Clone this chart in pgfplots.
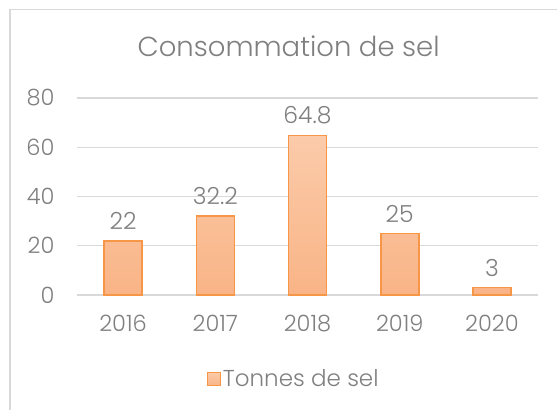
\documentclass[border=0pt]{standalone}
\usepackage{fontspec}
\setmainfont{Poppins}[UprightFont={* Light}]
\usepackage{pgfplots}
\pgfplotsset{compat=1.18}
\definecolor{txt}{HTML}{7F7F7F}
\definecolor{gridc}{HTML}{D9D9D9}
\definecolor{barline}{HTML}{F79646}
\definecolor{bartop}{HTML}{FBCBAA}
\definecolor{barbot}{HTML}{F9B486}
\begin{document}
\begin{tikzpicture}[x=1bp,y=1bp]
\path[use as bounding box] (-77,-115) rectangle (480,295);
\draw[gridc, line width=1.5bp] (-67,-115) -- (-67,285.5) -- (480,285.5);
\begin{axis}[
  at={(0,0)}, anchor=south west,
  scale only axis, width=461bp, height=197bp,
  xmin=-0.5, xmax=4.5, ymin=0, ymax=80,
  ytick={0,20,40,60,80},
  xtick=data,
  xticklabels={2016,2017,2018,2019,2020},
  ymajorgrids=true, xmajorgrids=false, grid style={draw=gridc, line width=1.2bp},
  axis line style={draw=none},
  major tick length=0pt,
  tick label style={font=\fontsize{22.5bp}{26bp}\selectfont, text=txt},
  /pgf/number format/assume math mode=true,
  yticklabel style={xshift=-19bp},
  xticklabel style={yshift=-17bp},
  ybar, bar width=38bp,
  nodes near coords,
  nodes near coords style={font=\fontsize{23.5bp}{26bp}\selectfont, text=txt, yshift=7bp},
  /pgf/number format/.cd, use period, 1000 sep={},
  /pgfplots/.cd,
  legend style={at={(0.47,-84bp)}, anchor=center, draw=none, fill=none,
    font=\fontsize{23bp}{26bp}\selectfont, text=txt, inner sep=0pt},
  legend cell align=left,
  legend image code/.code={\draw[barline, line width=1.2bp, fill=bartop] (0bp,-6.5bp) rectangle (13bp,6.5bp);},
  title={Consommation de sel},
  title style={font=\fontsize{27.5bp}{30bp}\selectfont, text=txt, at={(0.459,1)}, anchor=center, yshift=46bp},
]
\addplot[draw=barline, line width=1.6bp, top color=bartop, bottom color=barbot, middle color=bartop!50!barbot]
  coordinates {(0,22) (1,32.2) (2,64.8) (3,25) (4,3)};
\addlegendentry{Tonnes de sel}
\end{axis}
\end{tikzpicture}
\end{document}
